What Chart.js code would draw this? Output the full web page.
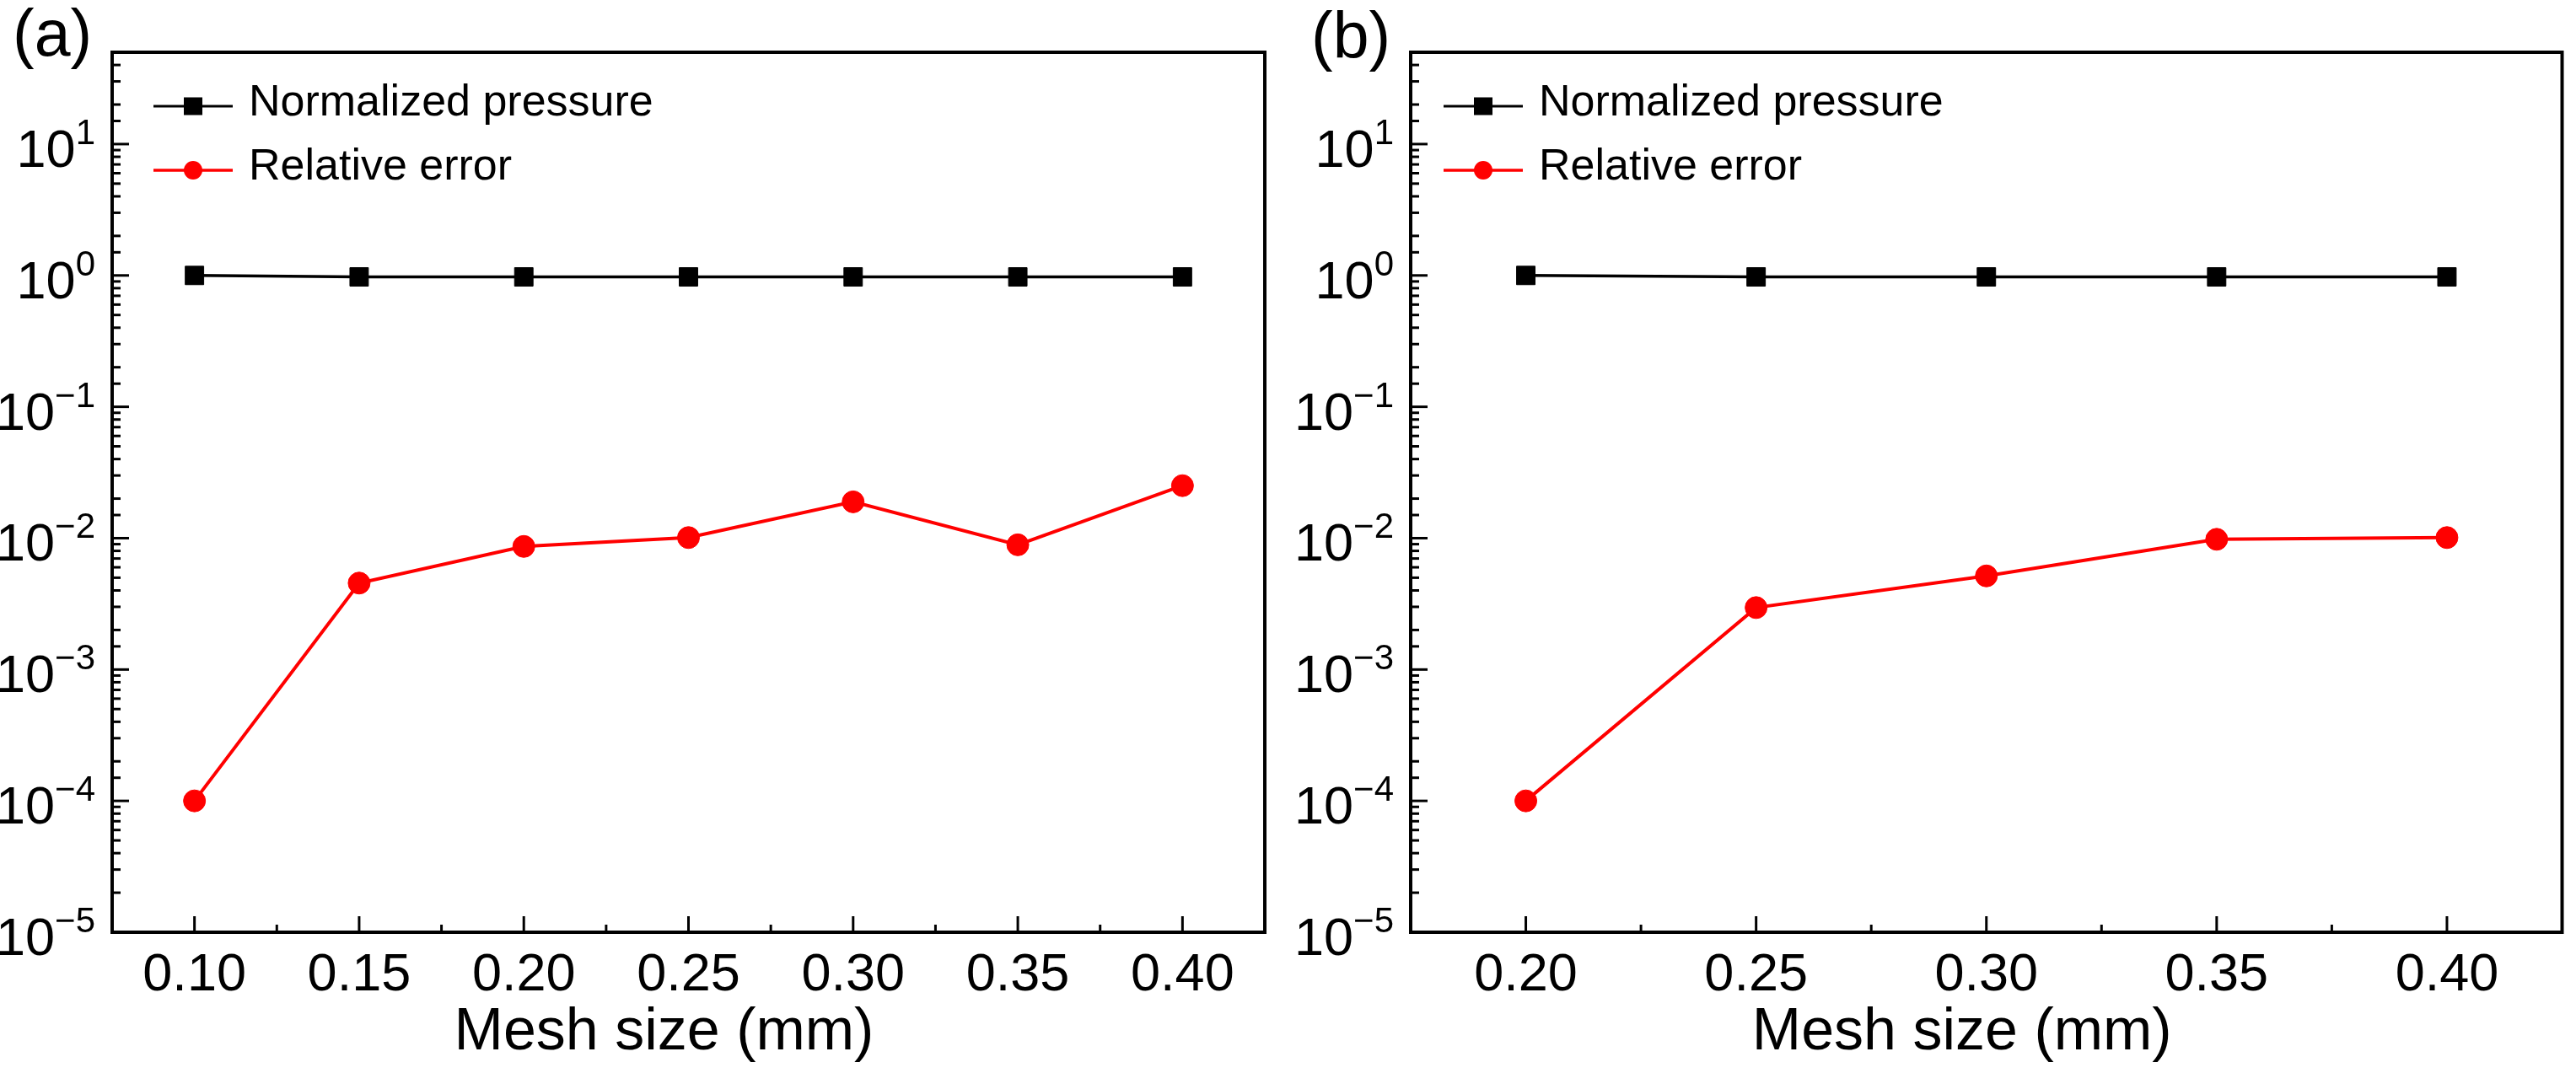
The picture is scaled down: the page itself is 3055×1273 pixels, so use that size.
<!DOCTYPE html>
<html>
<head>
<meta charset="utf-8">
<script src="https://cdn.jsdelivr.net/npm/chart.js@4/dist/chart.umd.min.js"></script>
<style>
  html, body { margin: 0; padding: 0; background: #fff; }
  #wrap { position: relative; width: 3055px; height: 1273px; }
  .panel { position: absolute; top: 0; height: 1273px; }
  #panel-a { left: 0; width: 1530px; }
  #panel-b { left: 1530px; width: 1525px; }
</style>
</head>
<body>
<div id="wrap">
  <div class="panel" id="panel-a"><canvas id="chart-a"></canvas></div>
  <div class="panel" id="panel-b"><canvas id="chart-b"></canvas></div>
</div>
<script>
// values
const meshA = [0.10, 0.15, 0.20, 0.25, 0.30, 0.35, 0.40];
const pressureA = [1.0, 0.975, 0.975, 0.975, 0.975, 0.975, 0.975];
const errorA = [1.0e-4, 4.55e-3, 8.65e-3, 1.01e-2, 1.89e-2, 8.9e-3, 2.51e-2];

const meshB = [0.20, 0.25, 0.30, 0.35, 0.40];
const pressureB = [1.0, 0.975, 0.975, 0.975, 0.975];
const errorB = [1.0e-4, 2.96e-3, 5.16e-3, 9.8e-3, 1.01e-2];

// tick values and labels
const xTicksA = [0.10, 0.15, 0.20, 0.25, 0.30, 0.35, 0.40];
const xLabelsA = ['0.10', '0.15', '0.20', '0.25', '0.30', '0.35', '0.40'];
const xMinorA = [0.125, 0.175, 0.225, 0.275, 0.325, 0.375];
const xTicksB = [0.20, 0.25, 0.30, 0.35, 0.40];
const xLabelsB = ['0.20', '0.25', '0.30', '0.35', '0.40'];
const xMinorB = [0.225, 0.275, 0.325, 0.375];

const yDecades = [1e-5, 1e-4, 1e-3, 1e-2, 1e-1, 1, 10];
const yBase = '10';
const yExponents = ['\u22125', '\u22124', '\u22123', '\u22122', '\u22121', '0', '1'];

const seriesNames = ['Normalized pressure', 'Relative error'];
const xTitle = 'Mesh size (mm)';

const FONT = "'Liberation Sans', Arial, Helvetica, sans-serif";
Chart.defaults.color = '#000';

function findIndex(list, v) {
  return list.findIndex(t => Math.abs(t - v) < 1e-9);
}

function isDecade(v) {
  const e = Math.log10(v);
  return Math.abs(e - Math.round(e)) < 1e-6;
}

// inward ticks, closed frame, 10^n labels, axis title, legend and panel letter
const decor = {
  id: 'decor',
  afterDatasetsDraw(chart, args, opts) {
    const ctx = chart.ctx;
    const area = chart.chartArea;
    const xs = chart.scales.x;
    const ys = chart.scales.y;
    ctx.save();
    ctx.strokeStyle = '#000';
    ctx.lineWidth = 3;
    xs.ticks.forEach(t => {
      const px = xs.getPixelForValue(t.value);
      const len = findIndex(opts.major, t.value) >= 0 ? 19 : 9;
      ctx.beginPath();
      ctx.moveTo(px, area.bottom);
      ctx.lineTo(px, area.bottom - len);
      ctx.stroke();
    });
    ys.ticks.forEach(t => {
      const py = ys.getPixelForValue(t.value);
      const len = isDecade(t.value) ? 20 : 10;
      ctx.beginPath();
      ctx.moveTo(area.left, py);
      ctx.lineTo(area.left + len, py);
      ctx.stroke();
    });
    ctx.lineWidth = 4;
    ctx.strokeRect(area.left, area.top, area.right - area.left, area.bottom - area.top);

    // y labels with superscript exponents
    ctx.fillStyle = '#000';
    ctx.textBaseline = 'alphabetic';
    ctx.textAlign = 'right';
    yDecades.forEach((d, i) => {
      const py = ys.getPixelForValue(d);
      const right = area.left - 20;
      ctx.font = '42px ' + FONT;
      const ew = ctx.measureText(yExponents[i]).width;
      ctx.fillText(yExponents[i], right, py);
      ctx.font = '63px ' + FONT;
      ctx.fillText(yBase, right - ew, py + 27);
    });

    // x axis title, sits a little left of the plot centre in the original
    ctx.font = '70px ' + FONT;
    ctx.textAlign = 'center';
    ctx.fillText(xTitle, (area.left + area.right) / 2 - 29, area.bottom + 139);

    // legend
    const rows = [126, 202];
    chart.data.datasets.forEach((ds, i) => {
      const yy = rows[i];
      ctx.strokeStyle = ds.borderColor;
      ctx.fillStyle = ds.borderColor;
      ctx.lineWidth = ds.borderWidth - 0.5;
      ctx.beginPath();
      ctx.moveTo(182, yy);
      ctx.lineTo(276, yy);
      ctx.stroke();
      if (ds.pointStyle === 'rect') {
        ctx.fillRect(229 - 11, yy - 10.5, 22, 21);
      } else {
        ctx.beginPath();
        ctx.arc(229, yy, 11, 0, Math.PI * 2);
        ctx.fill();
      }
      ctx.fillStyle = '#000';
      ctx.font = '52px ' + FONT;
      ctx.textBaseline = 'alphabetic';
      ctx.textAlign = 'left';
      ctx.fillText(ds.label, 295, yy + 11);
    });

    ctx.fillStyle = '#000';
    ctx.font = '77px ' + FONT;
    ctx.textAlign = 'left';
    ctx.textBaseline = 'alphabetic';
    ctx.fillText(opts.panel, opts.panelX, opts.panelY);
    ctx.restore();
  }
};

function makeChart(id, cfg) {
  return new Chart(document.getElementById(id), {
    type: 'line',
    data: {
      datasets: [
        {
          label: seriesNames[0],
          data: cfg.mesh.map((m, i) => ({ x: m, y: cfg.pressure[i] })),
          borderColor: '#000000',
          backgroundColor: '#000000',
          borderWidth: 3.5,
          pointStyle: 'rect',
          pointRadius: 15.5,
          pointBorderWidth: 1,
          tension: 0
        },
        {
          label: seriesNames[1],
          data: cfg.mesh.map((m, i) => ({ x: m, y: cfg.error[i] })),
          borderColor: '#ff0000',
          backgroundColor: '#ff0000',
          borderWidth: 4,
          pointStyle: 'circle',
          pointRadius: 13,
          pointBorderWidth: 1,
          tension: 0
        }
      ]
    },
    options: {
      responsive: true,
      maintainAspectRatio: false,
      animation: false,
      events: [],
      layout: { padding: { top: 62, right: cfg.padRight, left: 0, bottom: 0 } },
      plugins: {
        legend: { display: false },
        tooltip: { enabled: false },
        decor: { major: cfg.major, panel: cfg.panel, panelX: cfg.panelX, panelY: cfg.panelY }
      },
      scales: {
        x: {
          type: 'linear',
          min: cfg.xMin,
          max: cfg.xMax,
          grid: { display: false, drawTicks: false },
          border: { display: false },
          afterBuildTicks: s => {
            s.ticks = cfg.major.concat(cfg.minor).sort((a, b) => a - b).map(v => ({ value: v }));
          },
          afterFit: s => { s.height = 167; },
          ticks: {
            autoSkip: false,
            maxRotation: 0,
            padding: 14,
            color: '#000',
            font: { family: FONT, size: 63 },
            callback: v => {
              const i = findIndex(cfg.major, v);
              return i >= 0 ? cfg.labels[i] : '';
            }
          }
        },
        y: {
          type: 'logarithmic',
          min: 1e-5,
          max: 50,
          grid: { display: false, drawTicks: false },
          border: { display: false },
          afterFit: s => { s.width = cfg.yWidth; },
          ticks: { display: false, autoSkip: false }
        }
      }
    },
    plugins: [decor]
  });
}

makeChart('chart-a', {
  mesh: meshA, pressure: pressureA, error: errorA,
  major: xTicksA, minor: xMinorA, labels: xLabelsA,
  xMin: 0.075, xMax: 0.425,
  padRight: 30, yWidth: 133,
  panel: '(a)', panelX: 15, panelY: 66
});

makeChart('chart-b', {
  mesh: meshB, pressure: pressureB, error: errorB,
  major: xTicksB, minor: xMinorB, labels: xLabelsB,
  xMin: 0.175, xMax: 0.425,
  padRight: 15, yWidth: 143,
  panel: '(b)', panelX: 25, panelY: 69
});
</script>
</body>
</html>
